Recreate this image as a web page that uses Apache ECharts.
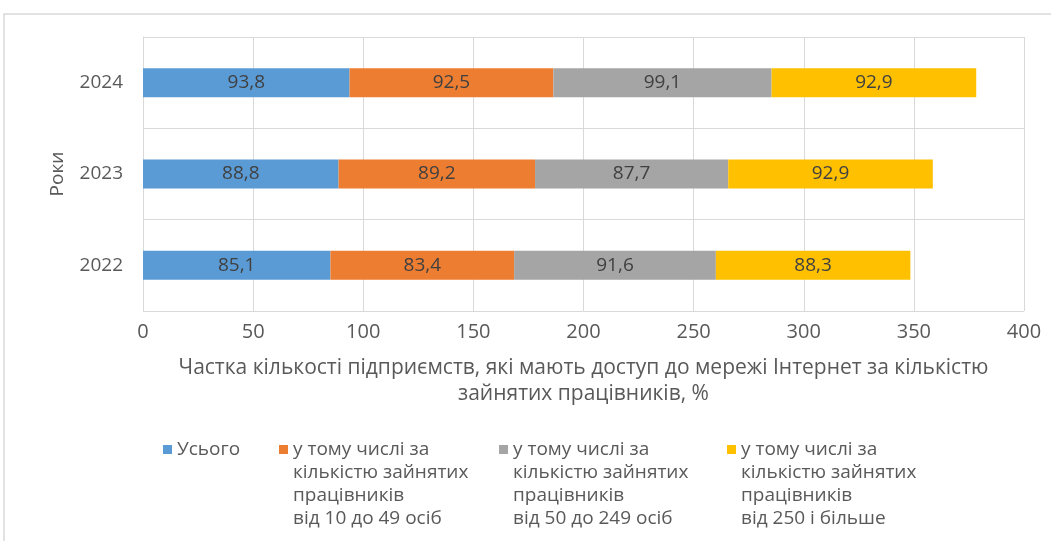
<!DOCTYPE html>
<html>
<head>
<meta charset="utf-8">
<script src="https://cdn.jsdelivr.net/npm/echarts@6/dist/echarts.min.js"></script>
<style>
  html, body { margin: 0; padding: 0; background: #fff; }
  #chart { width: 1051px; height: 541px; }
</style>
</head>
<body>
<div id="chart"></div>
<script>
    var years = ['2022', '2023', '2024'];
    var seriesNames = [
        'Усього',
        'у тому числі за\nкількістю зайнятих\nпрацівників\nвід 10 до 49 осіб',
        'у тому числі за\nкількістю зайнятих\nпрацівників\nвід 50 до 249 осіб',
        'у тому числі за\nкількістю зайнятих\nпрацівників\nвід 250 і більше'
    ];
    var total = [85.1, 88.8, 93.8];
    var small = [83.4, 89.2, 92.5];
    var medium = [91.6, 87.7, 99.1];
    var large = [88.3, 92.9, 92.9];
    var xTicks = [0, 50, 100, 150, 200, 250, 300, 350, 400];

    var colors = ['#5b9bd5', '#ed7d31', '#a5a5a5', '#ffc000'];
    var values = [total, small, medium, large];
    var font = '"Open Sans", sans-serif';

    var series = values.map(function (arr, i) {
        return {
            name: seriesNames[i],
            type: 'bar',
            stack: 'all',
            barWidth: 29,
            data: arr,
            itemStyle: {color: colors[i]},
            label: {
                show: true,
                position: 'inside',
                color: '#404040',
                fontSize: 19,
                fontFamily: font,
                formatter: function (p) {
                    return String(p.value).replace('.', ',');
                }
            }
        };
    });

    // one legend per item; blank lines in front keep the first line level with the square
    var legendLeft = [163, 279, 499, 727];
    var legends = seriesNames.map(function (name, i) {
        var multi = name.indexOf('\n') >= 0;
        return {
            data: [name],
            left: legendLeft[i],
            top: multi ? 369 : 438,
            padding: 0,
            orient: 'horizontal',
            itemWidth: 9,
            itemHeight: 9,
            itemGap: 6,
            icon: 'rect',
            selectedMode: false,
            formatter: function (n) {
                return n.indexOf('\n') >= 0 ? '\n\n\n' + n : n;
            },
            textStyle: {
                color: '#595959',
                fontSize: 19,
                fontFamily: font,
                lineHeight: 23
            }
        };
    });

    var option = {
        animation: false,
        backgroundColor: '#fff',
        color: colors,
        graphic: [{
            type: 'rect',
            shape: {x: 4, y: 14, width: 1200, height: 700},
            style: {fill: 'none', stroke: '#d9d9d9', lineWidth: 1.5},
            silent: true
        }],
        grid: {
            left: 143,
            right: 27,
            top: 37,
            bottom: 230,
            containLabel: false
        },
        legend: legends,
        xAxis: {
            type: 'value',
            min: xTicks[0],
            max: xTicks[xTicks.length - 1],
            interval: 50,
            name: 'Частка кількості підприємств, які мають доступ до мережі Інтернет за кількістю\nзайнятих працівників, %',
            nameLocation: 'middle',
            nameGap: 44,
            nameTextStyle: {
                color: '#595959',
                fontSize: 21,
                fontFamily: font,
                lineHeight: 26
            },
            axisLine: {show: false},
            axisTick: {show: false},
            axisLabel: {
                color: '#595959',
                fontSize: 20,
                fontFamily: font,
                margin: 11
            },
            splitLine: {
                show: true,
                lineStyle: {color: '#d9d9d9', width: 1}
            }
        },
        yAxis: {
            type: 'category',
            data: years,
            name: 'Роки',
            nameLocation: 'middle',
            nameGap: 76,
            nameRotate: 90,
            nameTextStyle: {
                color: '#595959',
                fontSize: 19,
                fontFamily: font
            },
            axisLine: {show: true, lineStyle: {color: '#d9d9d9'}},
            axisTick: {show: false},
            axisLabel: {
                color: '#595959',
                fontSize: 19,
                fontFamily: font,
                margin: 20
            },
            splitLine: {
                show: true,
                lineStyle: {color: '#d9d9d9', width: 1}
            }
        },
        series: series
    };

    var chart = echarts.init(document.getElementById('chart'));
    chart.setOption(option);
</script>
</body>
</html>
